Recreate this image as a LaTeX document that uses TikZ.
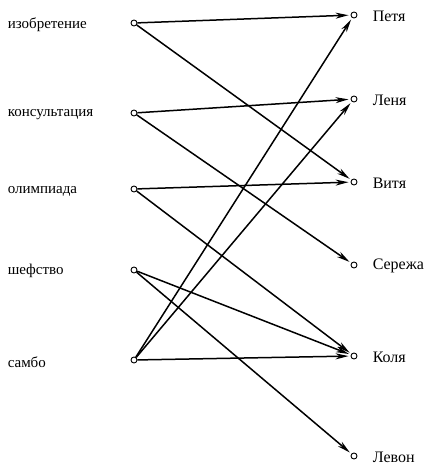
\documentclass[tikz,border=0pt]{standalone}
\usepackage{fontspec}
\setmainfont{Liberation Serif}
\usetikzlibrary{arrows.meta, positioning}

\begin{document}
\begin{tikzpicture}[x=1pt,y=-1pt,->,>={Stealth[length=13pt,width=6pt,inset=4pt]},line width=1.5pt,
    dot/.style={circle,draw,line width=0.9pt,inner sep=0pt,minimum size=6pt},
    lab/.style={font=\fontsize{15}{15}\selectfont,inner sep=0pt,anchor=west},
    rlab/.style={font=\fontsize{16}{16}\selectfont,inner sep=0pt,anchor=west}]
      \useasboundingbox (0,0) rectangle (430,465);
      % left column
      \node[dot] (izo) at (134,23) {};
      \node[dot] (kons) at (134,113) {};
      \node[dot] (olim) at (134,189) {};
      \node[dot] (shef) at (134,270) {};
      \node[dot] (sambo) at (134,360) {};
      \node[lab] (izoT) at (7,25) {изобретение};
      \node[lab] (konsT) at (7,115) {консультация};
      \node[lab] (olimT) at (7,191) {олимпиада};
      \node[lab] (shefT) at (7,271) {шефство};
      \node[lab] (samboT) at (7,362) {самбо};
      % right column
      \node[dot] (petya) at (354,15) {};
      \node[dot] (lenya) at (354,99) {};
      \node[dot] (vitya) at (354,182) {};
      \node[dot] (serezha) at (354,265) {};
      \node[dot] (kolya) at (354,356) {};
      \node[dot] (levon) at (354,456) {};
      \node[rlab] (petyaT) at (372,16) {Петя};
      \node[rlab] (lenyaT) at (372,100) {Леня};
      \node[rlab] (vityaT) at (372,183) {Витя};
      \node[rlab] (serezhaT) at (372,266) {Сережа};
      \node[rlab] (kolyaT) at (372,357) {Коля};
      \node[rlab] (levonT) at (372,457) {Левон};

      \path[shorten >=2pt]
            (izo) edge (petya) edge (vitya)
            (kons) edge (lenya) edge (serezha)
            (olim) edge (vitya) edge (kolya)
            (shef) edge (kolya) edge (levon)
            (sambo) edge (petya) edge (lenya) edge (kolya)
            ;
    \end{tikzpicture}
\end{document}
